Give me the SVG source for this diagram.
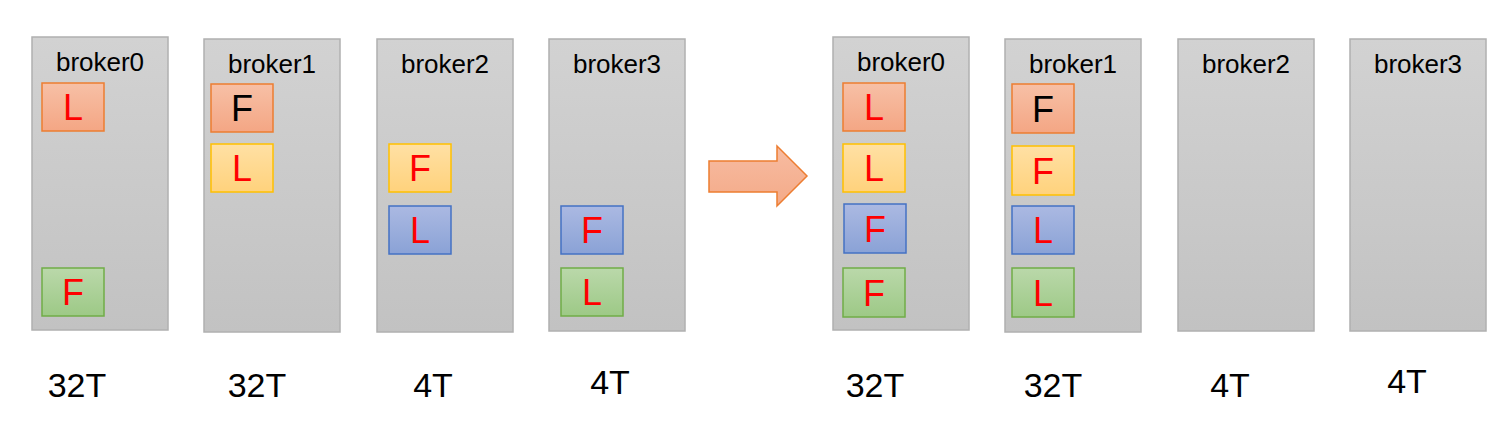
<svg xmlns="http://www.w3.org/2000/svg" width="1512" height="433" viewBox="0 0 1512 433">
<defs>
<linearGradient id="gb" x1="0" y1="0" x2="0" y2="1"><stop offset="0" stop-color="#d2d2d2"/><stop offset="1" stop-color="#c2c2c2"/></linearGradient>
<linearGradient id="go" x1="0" y1="0" x2="0" y2="1"><stop offset="0" stop-color="#f7c0a6"/><stop offset="1" stop-color="#f4a684"/></linearGradient>
<linearGradient id="gy" x1="0" y1="0" x2="0" y2="1"><stop offset="0" stop-color="#ffe0a4"/><stop offset="1" stop-color="#ffd27c"/></linearGradient>
<linearGradient id="gl" x1="0" y1="0" x2="0" y2="1"><stop offset="0" stop-color="#abb9e2"/><stop offset="1" stop-color="#8aa2d6"/></linearGradient>
<linearGradient id="gg" x1="0" y1="0" x2="0" y2="1"><stop offset="0" stop-color="#bad8aa"/><stop offset="1" stop-color="#9dc986"/></linearGradient>
<linearGradient id="ga" x1="0" y1="0" x2="0" y2="1"><stop offset="0" stop-color="#f7bca2"/><stop offset="1" stop-color="#f4aa88"/></linearGradient>
</defs>
<style>
.bk{fill:url(#gb);stroke:#b0b0b0;stroke-width:1.5}
.o{fill:url(#go);stroke:#ed7d31;stroke-width:1.5}
.y{fill:url(#gy);stroke:#ffc000;stroke-width:1.5}
.b{fill:url(#gl);stroke:#4472c4;stroke-width:1.5}
.g{fill:url(#gg);stroke:#70ad47;stroke-width:1.5}
text{font-family:"Liberation Sans",Arial,sans-serif;text-anchor:middle}
.t{font-size:26px;fill:#000}
.r{font-size:36px;fill:#ff0000}
.k{font-size:36px;fill:#000}
.n{font-size:34px;fill:#000}
</style>
<g id="left-broker0">
<rect class="bk" x="32" y="37" width="136" height="293"/>
<text class="t" x="100" y="71">broker0</text>
<rect class="o" x="42" y="83" width="62" height="48"/><text class="r" x="73" y="120">L</text>
<rect class="g" x="42" y="268" width="62" height="48"/><text class="r" x="73" y="305">F</text>
</g>
<g id="left-broker1">
<rect class="bk" x="204" y="39" width="136" height="293"/>
<text class="t" x="272" y="73">broker1</text>
<rect class="o" x="211" y="84" width="62" height="48"/><text class="k" x="242" y="121">F</text>
<rect class="y" x="211" y="144" width="62" height="48"/><text class="r" x="242" y="181">L</text>
</g>
<g id="left-broker2">
<rect class="bk" x="377" y="39" width="136" height="293"/>
<text class="t" x="445" y="73">broker2</text>
<rect class="y" x="389" y="144" width="62" height="48"/><text class="r" x="420" y="181">F</text>
<rect class="b" x="389" y="206" width="62" height="48"/><text class="r" x="420" y="243">L</text>
</g>
<g id="left-broker3">
<rect class="bk" x="549" y="39" width="136" height="292"/>
<text class="t" x="617" y="73">broker3</text>
<rect class="b" x="561" y="206" width="62" height="48"/><text class="r" x="592" y="243">F</text>
<rect class="g" x="561" y="268" width="62" height="48"/><text class="r" x="592" y="305">L</text>
</g>
<g id="right-broker0">
<rect class="bk" x="833" y="37" width="136" height="293"/>
<text class="t" x="901" y="71">broker0</text>
<rect class="o" x="843" y="83" width="62" height="48"/><text class="r" x="874" y="120">L</text>
<rect class="y" x="843" y="144" width="62" height="48"/><text class="r" x="874" y="181">L</text>
<rect class="b" x="844" y="204" width="62" height="49"/><text class="r" x="875" y="242">F</text>
<rect class="g" x="843" y="268" width="62" height="49"/><text class="r" x="874" y="306">F</text>
</g>
<g id="right-broker1">
<rect class="bk" x="1005" y="39" width="136" height="293"/>
<text class="t" x="1073" y="73">broker1</text>
<rect class="o" x="1012" y="84" width="62" height="49"/><text class="k" x="1043" y="122">F</text>
<rect class="y" x="1012" y="146" width="62" height="49"/><text class="r" x="1043" y="184">F</text>
<rect class="b" x="1012" y="206" width="62" height="48"/><text class="r" x="1043" y="243">L</text>
<rect class="g" x="1012" y="268" width="62" height="49"/><text class="r" x="1043" y="306">L</text>
</g>
<g id="right-broker2">
<rect class="bk" x="1178" y="39" width="136" height="292"/>
<text class="t" x="1246" y="73">broker2</text>
</g>
<g id="right-broker3">
<rect class="bk" x="1350" y="39" width="136" height="292"/>
<text class="t" x="1418" y="73">broker3</text>
</g>
<g id="connectors">
<path d="M709 161 H777 V146 L807 176 L777 206 V192 H709 Z" fill="url(#ga)" stroke="#ed7d31" stroke-width="1.5"/>
</g>
<g id="labels">
<text class="n" x="77" y="397">32T</text>
<text class="n" x="257" y="397">32T</text>
<text class="n" x="433" y="397">4T</text>
<text class="n" x="610" y="394">4T</text>
<text class="n" x="875" y="397">32T</text>
<text class="n" x="1053" y="397">32T</text>
<text class="n" x="1230" y="397">4T</text>
<text class="n" x="1407" y="393">4T</text>
</g>
</svg>
